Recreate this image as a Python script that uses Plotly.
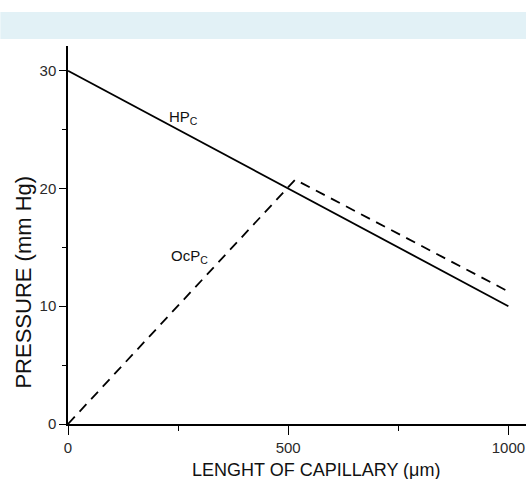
import plotly.graph_objects as go

# Data
hp_x = [0, 1000]
hp_y = [30, 10]
ocp_x = [0, 516, 1000]
ocp_y = [0, 20.75, 11.25]
x_ticks = [0, 500, 1000]
y_ticks = [0, 10, 20, 30]

FONT = "Liberation Sans, Arial, sans-serif"

fig = go.Figure()
fig.add_trace(go.Scatter(x=hp_x, y=hp_y, mode="lines",
                         line=dict(color="black", width=1.8), showlegend=False))
fig.add_trace(go.Scatter(x=ocp_x, y=ocp_y, mode="lines",
                         line=dict(color="black", width=1.8, dash="10px,7px"), showlegend=False))

W, H = 526, 479
L, R, T, B = 67.7, 0, 46, 54.6
pw = W - L - R
ph = H - T - B

def px_x(p):
    return (p - L) / pw

def px_y(p):
    return (H - B - p) / ph

fig.update_layout(
    width=W, height=H,
    margin=dict(l=L, r=R, t=T, b=B, pad=0),
    paper_bgcolor="white", plot_bgcolor="white",
    font=dict(family=FONT, size=15, color="#2a2a2a"),
    xaxis=dict(range=[0, 1040], tickvals=x_ticks, ticks="outside", ticklen=9,
               tickwidth=1.3, tickcolor="black", showline=True, linecolor="black",
               linewidth=1.5, showgrid=False, zeroline=False,
               minor=dict(dtick=250, tick0=0, ticks="outside", ticklen=5, tickcolor="black", tickwidth=1.2),
               tickfont=dict(size=15, color="#2a2a2a")),
    yaxis=dict(range=[0, 32.1], tickvals=y_ticks, ticks="outside", ticklen=7,
               tickwidth=1.3, tickcolor="black", showline=True, linecolor="black",
               linewidth=1.5, showgrid=False, zeroline=False,
               minor=dict(dtick=5, tick0=0, ticks="outside", ticklen=4, tickcolor="black", tickwidth=1.2),
               tickfont=dict(size=15, color="#2a2a2a")),
    shapes=[dict(type="rect", xref="paper", yref="paper",
                 x0=px_x(0), x1=px_x(W), y0=px_y(39), y1=px_y(12),
                 fillcolor="#e2f1f6", line=dict(width=0), layer="below")],
    annotations=[
        dict(text="HP<sub>C</sub>", x=262, y=26.0, xref="x", yref="y", showarrow=False,
             xanchor="center", yanchor="middle", font=dict(size=15, color="#111")),
        dict(text="OcP<sub>C</sub>", x=276, y=14.2, xref="x", yref="y", showarrow=False,
             xanchor="center", yanchor="middle", font=dict(size=15, color="#111")),
        dict(text="LENGHT OF CAPILLARY (\u03bcm)", x=px_x(316), y=px_y(470), xref="paper", yref="paper",
             showarrow=False, xanchor="center", yanchor="middle", font=dict(size=18, color="#111")),
        dict(text="PRESSURE (mm Hg)", x=px_x(23.5), y=px_y(282), xref="paper", yref="paper",
             showarrow=False, textangle=-90, xanchor="center", yanchor="middle",
             font=dict(size=22, color="#111")),
    ],
)

fig.write_html("out.html", config={"displayModeBar": False},
               post_script="document.body.style.margin='0';document.body.style.overflow='hidden';")
